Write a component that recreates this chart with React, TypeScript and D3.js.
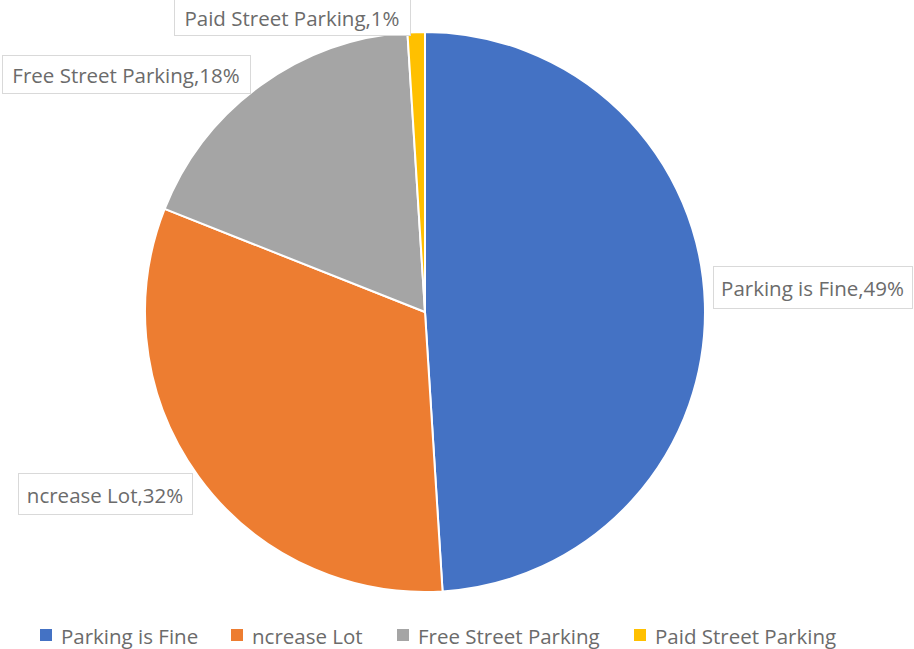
import React from "react";
import * as d3 from "d3";

const categories = ["Parking is Fine", "ncrease Lot", "Free Street Parking", "Paid Street Parking"];
const values = [49, 32, 18, 1];
const colors = ["#4472C4", "#ED7D31", "#A5A5A5", "#FFC000"];

// label box layout (x, y, w, h) in px
const labelBoxes = [
  { x: 713, y: 266, w: 199, h: 42 },
  { x: 18, y: 473, w: 174, h: 41 },
  { x: 2, y: 55, w: 248, h: 38 },
  { x: 174, y: -2, w: 236, h: 37 },
];
const legendX = [40, 231, 397, 634];

const W = 914, H = 649;
const cx = 425, cy = 312, R = 280;

export default function App() {
  const pie = d3.pie<number>().sort(null).value((d) => d);
  const arcs = pie(values);
  const arc = d3.arc<d3.PieArcDatum<number>>().innerRadius(0).outerRadius(R);
  const font = "'Open Sans', sans-serif";
  return (
    <svg width={W} height={H} style={{ position: "absolute", left: 0, top: 0, background: "#fff" }}>
      <rect width={W} height={H} fill="#fff" />
      <g transform={`translate(${cx},${cy})`}>
        {arcs.map((a, i) => (
          <path key={i} d={arc(a) || ""} fill={colors[i]} stroke="#fff" strokeWidth={2} strokeLinejoin="round" />
        ))}
      </g>
      {labelBoxes.map((b, i) => (
        <g key={i}>
          <rect x={b.x + 0.5} y={b.y + 0.5} width={b.w} height={b.h} fill="#fff" stroke="#D9D9D9" strokeWidth={1} />
          <text
            x={b.x + b.w / 2}
            y={b.y + b.h / 2 + 1}
            textAnchor="middle"
            dominantBaseline="central"
            fontFamily={font}
            fontSize={20.5}
            fill="#6b6b6b"
          >
            {`${categories[i]},${values[i]}%`}
          </text>
        </g>
      ))}
      {categories.map((c, i) => (
        <g key={c} transform={`translate(${legendX[i]},635)`}>
          <rect x={0} y={-6} width={12} height={12} fill={colors[i]} />
          <text x={21} y={1} dominantBaseline="central" fontFamily={font} fontSize={20.5} fill="#6b6b6b">
            {c}
          </text>
        </g>
      ))}
    </svg>
  );
}
